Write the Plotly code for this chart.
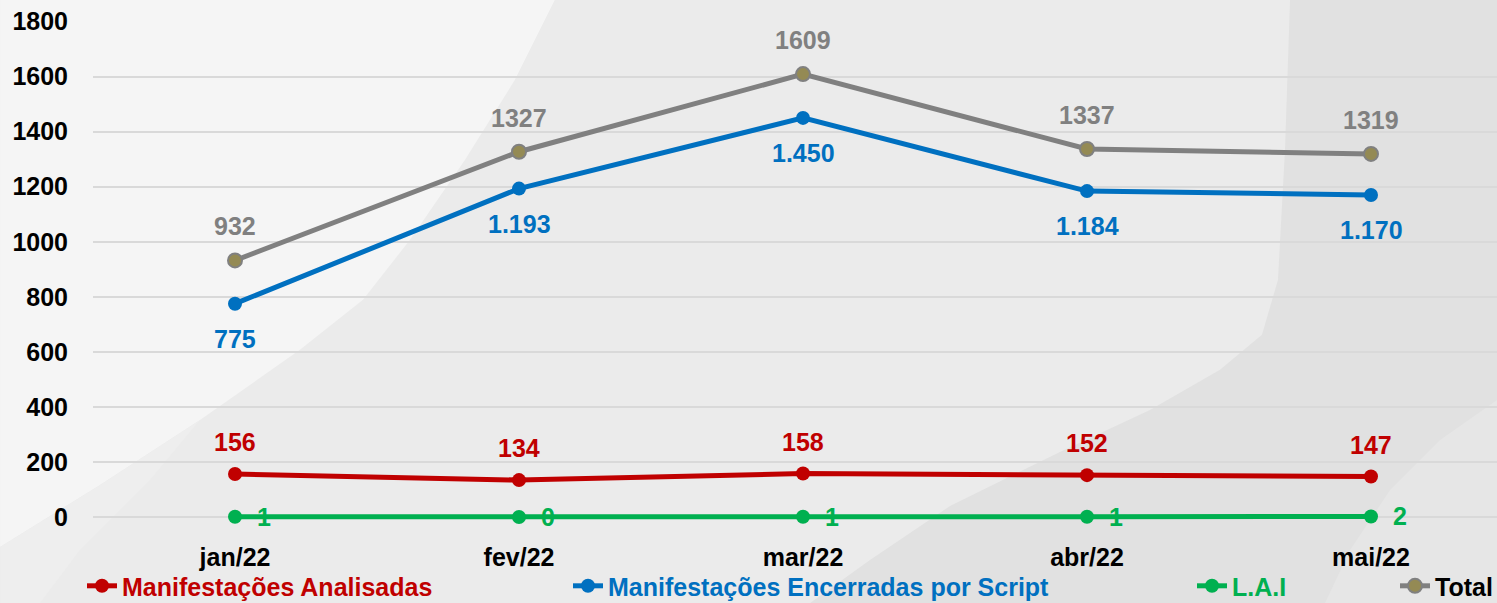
import plotly.graph_objects as go

# ---------------- data ----------------
months = ["jan/22", "fev/22", "mar/22", "abr/22", "mai/22"]
analisadas = [156, 134, 158, 152, 147]
encerradas_script = [775, 1193, 1450, 1184, 1170]
lai = [1, 0, 1, 1, 2]
total = [932, 1327, 1609, 1337, 1319]
y_ticks = [0, 200, 400, 600, 800, 1000, 1200, 1400, 1600, 1800]

RED = "#c00000"
BLUE = "#0070c0"
GREEN = "#00b050"
GRAY = "#808080"
OLIVE = "#948a54"
FONT = "Arial, Liberation Sans, sans-serif"

W, H = 1497, 603
Y_MIN, Y_MAX = -40, 1802
K = 495 / 1800.0                       # pixels per unit
ML, MR = 93, 0
MT = 22 - (Y_MAX - 1800) * K
PW = W - ML - MR
PH = (Y_MAX - Y_MIN) * K
MB = H - MT - PH


def px(x):
    return (x - ML) / PW


def py(y):
    return (MT + PH - y) / PH


def path(points):
    return "M " + " L ".join(f"{px(a):.4f},{py(b):.4f}" for a, b in points) + " Z"


fig = go.Figure()

fig.add_trace(go.Scatter(
    x=months, y=analisadas, name="Manifestações Analisadas", mode="lines+markers",
    line=dict(color=RED, width=5), marker=dict(color=RED, size=14),
    legend="legend", cliponaxis=False))
fig.add_trace(go.Scatter(
    x=months, y=encerradas_script, name="Manifestações Encerradas por Script", mode="lines+markers",
    line=dict(color=BLUE, width=5), marker=dict(color=BLUE, size=14),
    legend="legend2", cliponaxis=False))
fig.add_trace(go.Scatter(
    x=months, y=lai, name="L.A.I", mode="lines+markers",
    line=dict(color=GREEN, width=5), marker=dict(color=GREEN, size=14),
    legend="legend3", cliponaxis=False))
fig.add_trace(go.Scatter(
    x=months, y=total, name="Total", mode="lines+markers",
    line=dict(color=GRAY, width=5), marker=dict(color=OLIVE, size=14, line=dict(color=GRAY, width=2)),
    legend="legend4", cliponaxis=False))


def fmt(v):
    return f"{v:,}".replace(",", ".")


annotations = []
for m, v in zip(months, total):
    annotations.append(dict(x=m, y=v, text=str(v), showarrow=False, yshift=34,
                            font=dict(family=FONT, size=25, color=GRAY, weight="bold")))
for m, v in zip(months, encerradas_script):
    annotations.append(dict(x=m, y=v, text=fmt(v), showarrow=False, yshift=-35,
                            font=dict(family=FONT, size=25, color=BLUE, weight="bold")))
for m, v in zip(months, analisadas):
    annotations.append(dict(x=m, y=v, text=str(v), showarrow=False, yshift=32,
                            font=dict(family=FONT, size=25, color=RED, weight="bold")))
for m, v in zip(months, lai):
    annotations.append(dict(x=m, y=v, text=str(v), showarrow=False, xshift=29,
                            font=dict(family=FONT, size=25, color=GREEN, weight="bold")))

# decorative background swooshes (screen pixel coordinates)
shapes = [
    dict(type="path", xref="paper", yref="paper", layer="below", line=dict(width=0),
         fillcolor="#ebebeb",
         path=path([(0, 0), (1290, 0), (1285, 150), (1278, 280), (1262, 335), (1220, 370),
                    (1150, 410), (1060, 452), (950, 506), (870, 560), (810, 603), (0, 603)])),
    dict(type="path", xref="paper", yref="paper", layer="below", line=dict(width=0),
         fillcolor="#f5f5f5",
         path=path([(0, 0), (555, 0), (515, 80), (465, 160), (410, 240), (363, 300),
                    (300, 350), (200, 420), (100, 485), (0, 547)])),
    dict(type="path", xref="paper", yref="paper", layer="below", line=dict(width=0),
         fillcolor="#eeeeee",
         path=path([(0, 547), (100, 485), (200, 420), (150, 480), (80, 550), (40, 603), (0, 603)])),
    dict(type="path", xref="paper", yref="paper", layer="below", line=dict(width=0),
         fillcolor="#e6e6e6",
         path=path([(1497, 400), (1440, 440), (1390, 490), (1350, 550), (1325, 603), (1497, 603)])),
]

legend_common = dict(orientation="h", yanchor="middle", y=py(586), xanchor="left",
                     bgcolor="rgba(0,0,0,0)", borderwidth=0, itemwidth=30)

fig.update_layout(
    width=W, height=H,
    margin=dict(l=ML, r=MR, t=MT, b=MB, pad=0, autoexpand=False),
    paper_bgcolor="#e1e1e1",
    plot_bgcolor="rgba(0,0,0,0)",
    font=dict(family=FONT, size=25, color="#000000"),
    showlegend=True,
    legend=dict(**legend_common, x=px(82), font=dict(family=FONT, size=25, color=RED, weight="bold")),
    legend2=dict(**legend_common, x=px(568), font=dict(family=FONT, size=25, color=BLUE, weight="bold")),
    legend3=dict(**legend_common, x=px(1192), font=dict(family=FONT, size=25, color=GREEN, weight="bold")),
    legend4=dict(**legend_common, x=px(1395), font=dict(family=FONT, size=25, color="#000000", weight="bold")),
    xaxis=dict(type="category", categoryorder="array", categoryarray=months,
               range=[-0.5, -0.5 + PW / 284.0], showgrid=False, zeroline=False, showline=False,
               ticks="", ticklabelstandoff=12,
               tickfont=dict(family=FONT, size=25, color="#000000", weight="bold")),
    yaxis=dict(range=[Y_MIN, Y_MAX], tickvals=y_ticks, ticktext=[str(t) for t in y_ticks],
               showgrid=True, gridcolor="#d9d9d9", gridwidth=1.5,
               zeroline=False, showline=False,
               ticks="", ticklabelstandoff=24,
               tickfont=dict(family=FONT, size=25, color="#000000", weight="bold")),
    annotations=annotations,
    shapes=shapes,
)

# remove the browser's default 8px body margin so the figure fills the window
fig.write_html("out.html", config={"displayModeBar": False},
               post_script="document.body.style.margin='0px';")
